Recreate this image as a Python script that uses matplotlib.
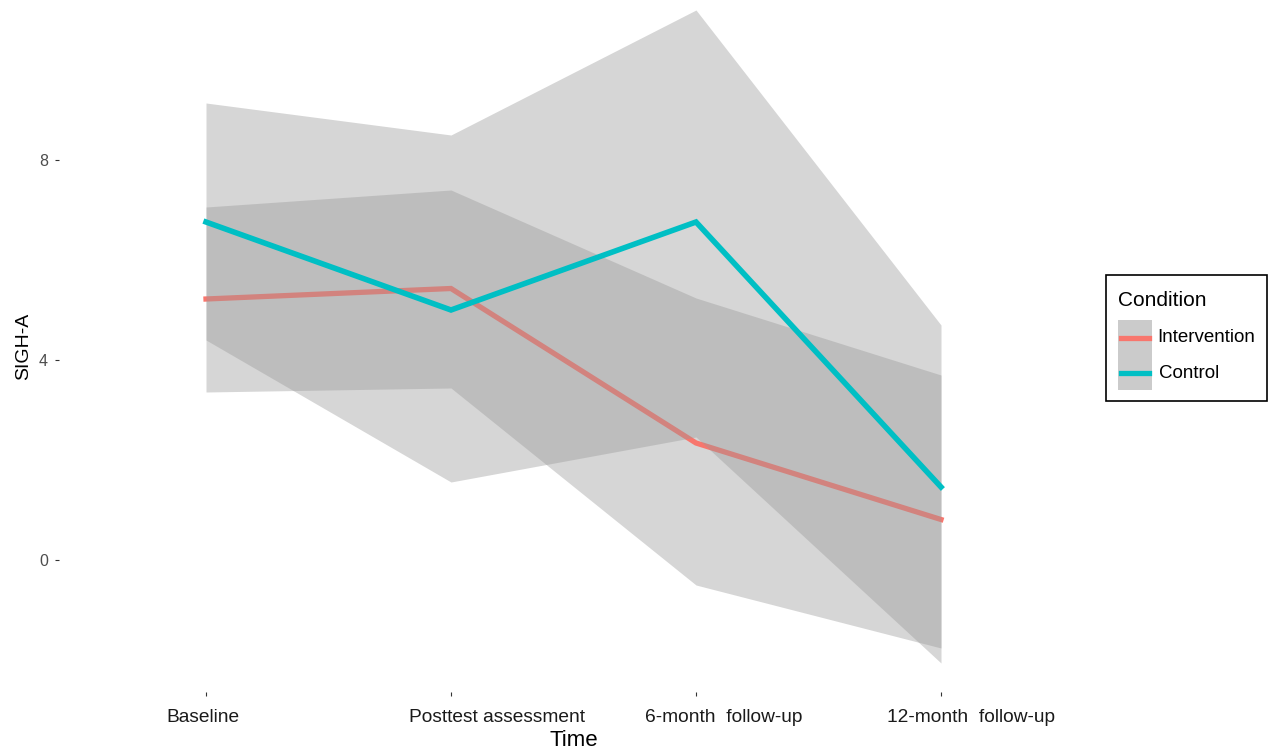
import matplotlib
matplotlib.use("Agg")
import matplotlib.pyplot as plt
from matplotlib.lines import Line2D
from matplotlib.patches import Rectangle
from matplotlib.transforms import offset_copy

# Assessment points
time_points = ["Baseline", "Posttest assessment", "6-month  follow-up", "12-month  follow-up"]

# SIGH-A means and interval bounds per condition
intervention_mean = [5.22, 5.43, 2.34, 0.81]
intervention_lower = [3.36, 3.44, -0.50, -1.76]
intervention_upper = [7.06, 7.40, 5.24, 3.70]

control_mean = [6.76, 5.00, 6.76, 1.46]
control_lower = [4.40, 1.56, 2.46, -2.06]
control_upper = [9.14, 8.50, 11.00, 4.70]

conditions = ["Intervention", "Control"]
y_ticks = [0, 4, 8]

RED = "#F8766D"
CYAN = "#00BFC4"
RIBBON = "#999999"

plt.rcParams["font.family"] = ["Liberation Sans", "DejaVu Sans"]
NARROW = ["Liberation Sans Narrow", "Liberation Sans", "DejaVu Sans"]

W, H = 1269, 755
fig = plt.figure(figsize=(W / 100, H / 100), dpi=100)
ax = fig.add_axes([59 / W, 63 / H, 1029 / W, 692 / H])

x = list(range(1, len(time_points) + 1))

ax.fill_between(x, intervention_lower, intervention_upper, color=RIBBON, alpha=0.4, lw=0, zorder=1)
ax.plot(x, intervention_mean, color=RED, lw=3.8, solid_joinstyle="miter", zorder=2)
ax.fill_between(x, control_lower, control_upper, color=RIBBON, alpha=0.4, lw=0, zorder=3)
ax.plot(x, control_mean, color=CYAN, lw=4.0, solid_joinstyle="miter", zorder=4)

ax.set_xlim(0.4, 4.6)
ax.set_ylim(-2.64, 11.2)
ax.set_xticks(x)
ax.set_xticklabels([])
ax.set_yticks(y_ticks)
ax.set_yticklabels([str(v) for v in y_ticks], fontsize=11.5, color="#4D4D4D")
ax.tick_params(axis="both", length=3, width=0.8, color="#333333")
ax.tick_params(axis="y", pad=5)
for s in ax.spines.values():
    s.set_visible(False)
ax.set_facecolor("white")

# Category labels start a little left of each tick
label_shift = [-40, -42, -51, -54]
for xi, lab, dx in zip(x, time_points, label_shift):
    tr = offset_copy(ax.get_xaxis_transform(), fig=fig, x=dx, y=-26, units="dots")
    ax.text(xi, 0, lab, transform=tr, ha="left", va="center", fontsize=13.8,
            family=NARROW, color="#1A1A1A", clip_on=False)

ax.set_xlabel("Time", fontsize=16, family=NARROW)
ax.xaxis.set_label_coords(0.5, -49 / 692)
ax.xaxis.label.set_va("center")
ax.set_ylabel("SIGH-A", fontsize=14, labelpad=5)

# Legend box drawn in pixel coordinates
def px(xp, yp):
    return xp / W, 1 - yp / H

tf = fig.transFigure
x0, y0 = px(1106, 401)
fig.add_artist(Rectangle((x0, y0), 161 / W, 126 / H, transform=tf, facecolor="white",
                         edgecolor="black", lw=1.2))
fig.text(*px(1118, 300), "Condition", transform=tf, fontsize=15, va="center", ha="left")
kx, ky = px(1118, 390)
fig.add_artist(Rectangle((kx, ky), 34 / W, 70 / H, transform=tf, facecolor="#CBCBCB", lw=0))
for cond, col, yp, xt in zip(conditions, [RED, CYAN], [338, 373], [1157, 1159]):
    xa, ya = px(1121, yp)
    xb, _ = px(1149, yp)
    fig.add_artist(Line2D([xa, xb], [ya, ya], transform=tf, color=col, lw=3.8))
    fig.text(*px(xt, yp), cond, transform=tf, fontsize=13.5, va="center", ha="left")

fig.savefig("out.png", dpi=100, facecolor="white")
